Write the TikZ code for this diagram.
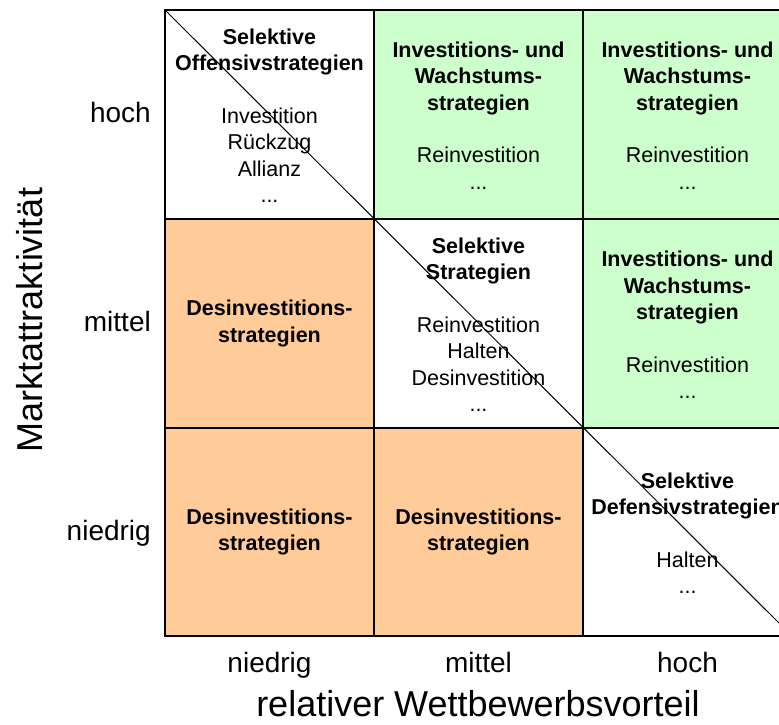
\documentclass[tikz,border=0pt]{standalone}
\usepackage{fontspec}
\setmainfont{Liberation Sans}
\definecolor{growgreen}{HTML}{CCFFCC}
\definecolor{divestorange}{HTML}{FFCC99}
\begin{document}
\begin{tikzpicture}[x=1pt,y=-1pt,
  cell/.style={align=center,inner sep=0pt,font=\fontsize{21.5}{26.5}\selectfont},
  tick/.style={inner sep=0pt,font=\fontsize{28}{34}\selectfont},
  axistitle/.style={inner sep=0pt,font=\fontsize{36}{43}\selectfont},
  gridline/.style={line width=1.5pt},
  diag/.style={line width=1pt}]
\useasboundingbox (0,0) rectangle (779,724);
\clip (0,0) rectangle (779,724);
% matrix: columns at 165, 374, 583, 792; rows at 10, 219, 428, 636
\fill[growgreen] (374,10) rectangle (792,219);
\fill[growgreen] (583,219) rectangle (792,428);
\fill[divestorange] (165,219) rectangle (374,636);
\fill[divestorange] (374,428) rectangle (583,636);
\draw[gridline] (165,10) rectangle (792,636);
\foreach \x in {374,583} \draw[gridline] (\x,10) -- (\x,636);
\foreach \y in {219,428} \draw[gridline] (165,\y) -- (792,\y);
% diagonal through the selective fields
\coordinate (dstart) at (165,10);
\coordinate (dend) at (792,636);
\draw[diag] (dstart) -- (dend);

% field texts
\node[cell] (c11) at (269.5,115.5) {\textbf{Selektive}\\\textbf{Offensivstrategien}\\[26pt]Investition\\Rückzug\\Allianz\\...};
\node[cell] (c21) at (478.5,115.5) {\textbf{Investitions- und}\\\textbf{Wachstums-}\\\textbf{strategien}\\[26pt]Reinvestition\\...};
\node[cell] (c31) at (687.5,115.5) {\textbf{Investitions- und}\\\textbf{Wachstums-}\\\textbf{strategien}\\[26pt]Reinvestition\\...};
\node[cell] (c12) at (269.5,323.5) {\textbf{Desinvestitions-}\\\textbf{strategien}};
\node[cell] (c22) at (478.5,324.5) {\textbf{Selektive}\\\textbf{Strategien}\\[26pt]Reinvestition\\Halten\\Desinvestition\\...};
\node[cell] (c32) at (687.5,325) {\textbf{Investitions- und}\\\textbf{Wachstums-}\\\textbf{strategien}\\[26pt]Reinvestition\\...};
\node[cell] (c13) at (269.5,532) {\textbf{Desinvestitions-}\\\textbf{strategien}};
\node[cell] (c23) at (478.5,532) {\textbf{Desinvestitions-}\\\textbf{strategien}};
\node[cell] (c33) at (687.5,533) {\textbf{Selektive}\\\textbf{Defensivstrategien}\\[26pt]Halten\\...};

% axis levels
\node[tick,anchor=base east] (yhigh) at (151,122) {hoch};
\node[tick,anchor=base east] (ymid) at (151,331) {mittel};
\node[tick,anchor=base east] (ylow) at (151,540) {niedrig};
\node[tick,anchor=base] (xlow) at (269.5,672) {niedrig};
\node[tick,anchor=base] (xmid) at (478.5,672) {mittel};
\node[tick,anchor=base] (xhigh) at (687.5,672) {hoch};

% axis titles
\node[axistitle,rotate=90,anchor=base] (ytitle) at (42,320) {Marktattraktivität};
\node[axistitle,anchor=base] (xtitle) at (478,716) {relativer Wettbewerbsvorteil};
\end{tikzpicture}
\end{document}
